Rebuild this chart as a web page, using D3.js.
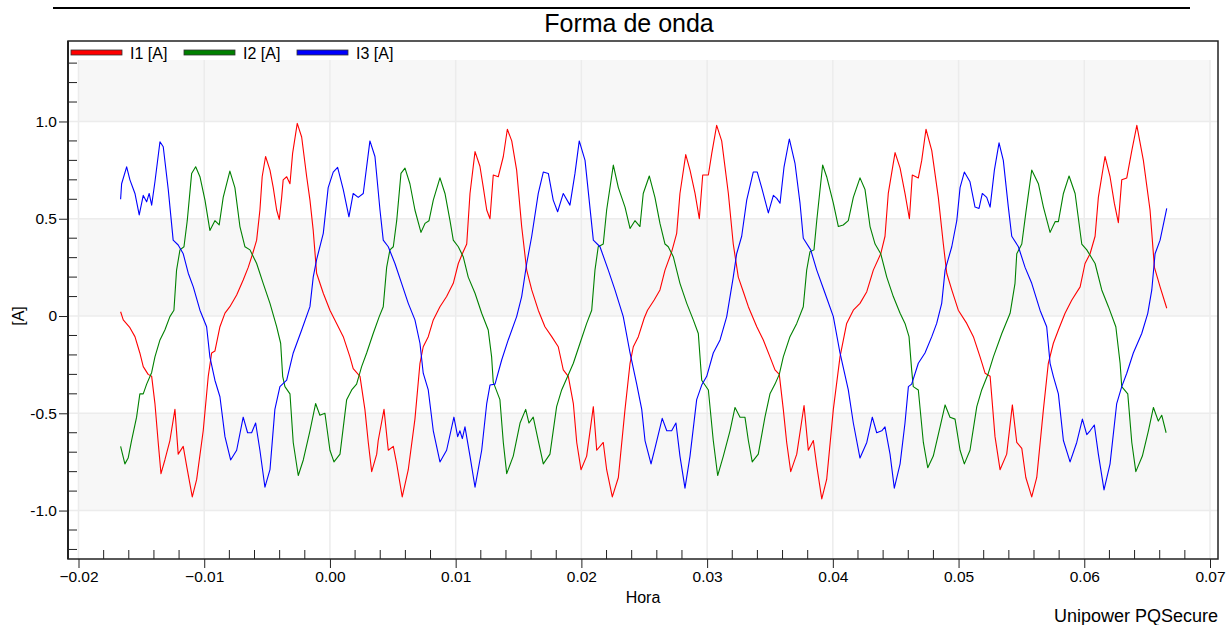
<!DOCTYPE html>
<html>
<head>
<meta charset="utf-8">
<script src="https://cdn.jsdelivr.net/npm/d3@7"></script>
<style>
  body { margin: 0; background: #fff; }
  svg { display: block; font-family: "Liberation Sans", Arial, sans-serif; }
</style>
</head>
<body>
<div id="chart"></div>
<script>
// samples: [time in ms, current in A]
const i1Data = [[-16.65,0.022],[-16.44,-0.02],[-15.91,-0.06],[-15.51,-0.106],[-15.12,-0.19],[-14.85,-0.26],[-14.46,-0.30],[-14.18,-0.31],[-13.92,-0.45],[-13.66,-0.65],[-13.44,-0.81],[-13.13,-0.74],[-12.73,-0.64],[-12.33,-0.48],[-12.07,-0.71],[-11.67,-0.67],[-11.40,-0.77],[-10.95,-0.93],[-10.60,-0.84],[-10.08,-0.59],[-9.68,-0.31],[-9.41,-0.19],[-9.15,-0.18],[-8.75,-0.055],[-8.35,0.015],[-7.96,0.048],[-7.42,0.108],[-6.90,0.185],[-6.50,0.25],[-6.15,0.32],[-5.83,0.39],[-5.57,0.545],[-5.39,0.716],[-5.12,0.82],[-4.77,0.75],[-4.51,0.66],[-4.24,0.545],[-4.03,0.497],[-3.84,0.61],[-3.72,0.70],[-3.44,0.716],[-3.18,0.68],[-2.97,0.836],[-2.60,0.99],[-2.25,0.92],[-1.85,0.716],[-1.59,0.596],[-1.33,0.44],[-1.06,0.22],[-0.53,0.117],[0,0.03],[0.53,-0.038],[1.06,-0.106],[1.59,-0.21],[1.85,-0.27],[2.39,-0.31],[2.78,-0.48],[3.05,-0.65],[3.32,-0.80],[3.72,-0.71],[3.84,-0.64],[4.30,-0.48],[4.64,-0.69],[5.04,-0.67],[5.31,-0.76],[5.75,-0.93],[6.23,-0.79],[6.76,-0.53],[7.16,-0.243],[7.42,-0.158],[7.82,-0.106],[8.22,-0.02],[8.75,0.048],[9.28,0.10],[9.81,0.168],[10.21,0.27],[10.53,0.32],[10.88,0.37],[11.14,0.63],[11.54,0.845],[11.93,0.77],[12.20,0.66],[12.47,0.545],[12.73,0.50],[12.99,0.725],[13.39,0.716],[13.79,0.82],[14.11,0.96],[14.46,0.90],[14.85,0.75],[15.25,0.46],[15.65,0.236],[16.05,0.134],[16.57,0.03],[17.10,-0.055],[17.64,-0.106],[18.16,-0.158],[18.56,-0.277],[18.96,-0.31],[19.36,-0.45],[19.63,-0.65],[19.97,-0.79],[20.42,-0.72],[20.95,-0.466],[21.22,-0.69],[21.74,-0.65],[22.01,-0.79],[22.46,-0.93],[22.94,-0.83],[23.47,-0.48],[23.87,-0.243],[24.13,-0.158],[24.53,-0.106],[25.00,-0.01],[25.26,0.03],[25.79,0.082],[26.25,0.134],[26.65,0.236],[27.18,0.33],[27.58,0.425],[27.84,0.63],[28.30,0.83],[28.64,0.75],[29.04,0.63],[29.38,0.50],[29.65,0.725],[30.10,0.725],[30.37,0.836],[30.76,0.98],[31.16,0.90],[31.69,0.63],[32.08,0.37],[32.48,0.20],[32.88,0.125],[33.28,0.048],[33.95,-0.055],[34.47,-0.123],[35.00,-0.21],[35.40,-0.277],[35.74,-0.30],[36.06,-0.48],[36.33,-0.65],[36.65,-0.80],[37.13,-0.71],[37.71,-0.46],[38.05,-0.69],[38.45,-0.64],[38.72,-0.77],[39.12,-0.94],[39.51,-0.84],[40.04,-0.48],[40.57,-0.21],[41.10,-0.038],[41.63,0.03],[42.16,0.065],[42.70,0.125],[43.22,0.236],[43.81,0.32],[44.15,0.41],[44.41,0.63],[44.95,0.84],[45.35,0.76],[45.74,0.63],[46.09,0.50],[46.32,0.725],[46.80,0.71],[47.07,0.80],[47.41,0.96],[47.87,0.85],[48.39,0.61],[48.79,0.37],[49.06,0.22],[49.46,0.134],[49.98,0.03],[50.65,-0.038],[51.18,-0.106],[51.71,-0.21],[52.11,-0.294],[52.51,-0.31],[52.90,-0.62],[53.30,-0.79],[53.83,-0.71],[54.28,-0.457],[54.63,-0.65],[55.03,-0.68],[55.35,-0.83],[55.82,-0.93],[56.22,-0.83],[56.75,-0.48],[57.14,-0.243],[57.54,-0.14],[57.94,-0.072],[58.47,0.014],[59.01,0.082],[59.67,0.15],[60.06,0.27],[60.46,0.32],[60.86,0.41],[61.12,0.61],[61.65,0.82],[62.05,0.716],[62.39,0.58],[62.71,0.48],[62.98,0.70],[63.38,0.71],[63.78,0.85],[64.18,0.98],[64.70,0.80],[65.23,0.545],[65.58,0.25],[66.03,0.15],[66.56,0.04]];

const i2Data = [[-16.65,-0.67],[-16.31,-0.76],[-16.05,-0.73],[-15.78,-0.64],[-15.38,-0.52],[-15.12,-0.40],[-14.85,-0.40],[-14.58,-0.35],[-14.18,-0.29],[-13.92,-0.21],[-13.52,-0.123],[-13.13,-0.072],[-12.73,-0.003],[-12.41,0.03],[-12.20,0.236],[-11.93,0.34],[-11.61,0.356],[-11.35,0.49],[-11.00,0.733],[-10.68,0.767],[-10.34,0.716],[-9.94,0.596],[-9.55,0.44],[-9.15,0.49],[-8.81,0.468],[-8.49,0.61],[-7.96,0.745],[-7.56,0.66],[-7.16,0.46],[-6.76,0.356],[-6.36,0.34],[-5.83,0.27],[-5.31,0.168],[-4.77,0.065],[-4.24,-0.055],[-3.92,-0.14],[-3.76,-0.31],[-3.58,-0.363],[-3.18,-0.40],[-2.92,-0.65],[-2.52,-0.82],[-2.12,-0.74],[-1.59,-0.59],[-1.14,-0.45],[-0.80,-0.51],[-0.40,-0.50],[0,-0.69],[0.32,-0.75],[0.80,-0.71],[1.33,-0.43],[1.73,-0.38],[2.12,-0.35],[2.52,-0.26],[2.92,-0.19],[3.44,-0.09],[3.92,-0.003],[4.24,0.048],[4.51,0.25],[4.77,0.34],[5.04,0.356],[5.31,0.49],[5.65,0.733],[5.97,0.76],[6.36,0.68],[6.76,0.545],[7.24,0.43],[7.56,0.476],[7.88,0.49],[8.22,0.596],[8.75,0.71],[9.15,0.63],[9.55,0.49],[9.81,0.39],[10.21,0.356],[10.60,0.305],[11.00,0.20],[11.54,0.117],[12.07,0.014],[12.59,-0.072],[12.86,-0.21],[12.99,-0.34],[13.52,-0.43],[13.79,-0.65],[14.06,-0.81],[14.58,-0.72],[15.12,-0.55],[15.57,-0.48],[15.83,-0.55],[16.17,-0.52],[16.57,-0.64],[16.97,-0.76],[17.50,-0.71],[18.03,-0.466],[18.43,-0.38],[18.91,-0.31],[19.36,-0.243],[19.89,-0.14],[20.42,-0.038],[20.82,0.03],[21.08,0.236],[21.34,0.356],[21.74,0.37],[22.01,0.545],[22.54,0.776],[22.94,0.66],[23.47,0.56],[23.87,0.45],[24.26,0.49],[24.66,0.46],[24.92,0.63],[25.40,0.72],[25.85,0.61],[26.25,0.476],[26.65,0.37],[26.91,0.356],[27.31,0.305],[27.84,0.168],[28.38,0.065],[28.90,-0.02],[29.30,-0.09],[29.57,-0.33],[30.10,-0.38],[30.49,-0.64],[30.84,-0.82],[31.29,-0.72],[31.82,-0.59],[32.22,-0.47],[32.62,-0.52],[33.01,-0.52],[33.28,-0.64],[33.59,-0.75],[34.07,-0.71],[34.60,-0.52],[35.00,-0.40],[35.40,-0.35],[35.74,-0.30],[36.06,-0.21],[36.59,-0.106],[37.13,-0.038],[37.65,0.048],[37.92,0.236],[38.18,0.33],[38.50,0.34],[38.72,0.49],[39.19,0.776],[39.51,0.716],[40.04,0.58],[40.44,0.46],[40.83,0.468],[41.23,0.49],[41.63,0.61],[42.16,0.71],[42.56,0.65],[42.96,0.46],[43.36,0.37],[43.81,0.32],[44.29,0.20],[44.81,0.10],[45.35,0.014],[45.74,-0.038],[46.06,-0.106],[46.27,-0.277],[46.40,-0.363],[46.80,-0.38],[47.20,-0.65],[47.55,-0.78],[47.99,-0.72],[48.53,-0.57],[48.93,-0.457],[49.32,-0.52],[49.72,-0.53],[50.12,-0.69],[50.46,-0.76],[50.91,-0.69],[51.45,-0.466],[51.84,-0.38],[52.37,-0.294],[52.77,-0.21],[53.44,-0.09],[54.10,0.014],[54.49,0.168],[54.63,0.32],[55.03,0.37],[55.35,0.53],[55.82,0.75],[56.35,0.68],[56.75,0.56],[57.28,0.43],[57.68,0.485],[57.94,0.485],[58.34,0.63],[58.79,0.72],[59.27,0.63],[59.80,0.37],[60.20,0.34],[60.86,0.27],[61.39,0.134],[61.92,0.048],[62.51,-0.055],[62.85,-0.243],[62.98,-0.363],[63.46,-0.40],[63.78,-0.65],[64.10,-0.80],[64.62,-0.72],[65.10,-0.59],[65.50,-0.47],[65.89,-0.54],[66.16,-0.51],[66.51,-0.60]];

const i3Data = [[-16.65,0.60],[-16.57,0.68],[-16.17,0.767],[-15.91,0.70],[-15.51,0.63],[-15.17,0.52],[-14.85,0.62],[-14.58,0.587],[-14.38,0.63],[-14.18,0.57],[-13.92,0.69],[-13.52,0.896],[-13.26,0.87],[-12.86,0.65],[-12.47,0.39],[-12.07,0.365],[-11.67,0.32],[-11.27,0.22],[-10.87,0.15],[-10.34,0.03],[-9.81,-0.055],[-9.55,-0.21],[-9.15,-0.33],[-8.75,-0.415],[-8.35,-0.62],[-7.90,-0.74],[-7.42,-0.69],[-6.90,-0.52],[-6.55,-0.60],[-6.23,-0.60],[-5.91,-0.55],[-5.57,-0.69],[-5.17,-0.88],[-4.77,-0.79],[-4.38,-0.48],[-3.98,-0.363],[-3.44,-0.33],[-2.92,-0.19],[-2.25,-0.072],[-1.59,0.048],[-1.33,0.20],[-1.06,0.29],[-0.53,0.425],[-0.14,0.66],[0.26,0.74],[0.61,0.764],[1.06,0.65],[1.51,0.51],[1.85,0.63],[2.25,0.61],[2.65,0.63],[3.18,0.90],[3.58,0.82],[3.98,0.545],[4.24,0.39],[4.64,0.356],[5.17,0.27],[5.70,0.168],[6.23,0.065],[6.76,-0.02],[7.16,-0.14],[7.42,-0.294],[7.82,-0.38],[8.22,-0.59],[8.75,-0.75],[9.28,-0.69],[9.86,-0.52],[10.16,-0.62],[10.34,-0.59],[10.53,-0.63],[10.74,-0.57],[11.14,-0.72],[11.54,-0.88],[12.07,-0.69],[12.47,-0.45],[12.73,-0.355],[13.13,-0.35],[13.66,-0.226],[14.18,-0.123],[14.85,-0.003],[15.25,0.10],[15.65,0.27],[16.05,0.41],[16.57,0.63],[16.97,0.74],[17.37,0.733],[17.76,0.596],[18.11,0.536],[18.56,0.63],[19.09,0.57],[19.49,0.733],[19.83,0.90],[20.29,0.80],[20.95,0.39],[21.48,0.356],[22.14,0.236],[22.67,0.134],[23.33,-0.003],[23.87,-0.19],[24.40,-0.35],[24.80,-0.48],[25.06,-0.64],[25.54,-0.76],[25.85,-0.68],[26.43,-0.526],[26.79,-0.59],[27.18,-0.59],[27.52,-0.55],[27.84,-0.72],[28.24,-0.885],[28.64,-0.72],[29.17,-0.43],[29.57,-0.355],[29.97,-0.31],[30.49,-0.19],[31.03,-0.123],[31.56,-0.003],[32.08,0.20],[32.35,0.32],[32.75,0.41],[33.15,0.596],[33.67,0.74],[33.99,0.74],[34.34,0.66],[34.87,0.53],[35.27,0.62],[35.54,0.605],[35.80,0.58],[36.12,0.767],[36.54,0.91],[36.99,0.785],[37.39,0.58],[37.65,0.40],[38.24,0.34],[38.72,0.236],[39.38,0.117],[40.04,-0.003],[40.57,-0.19],[41.23,-0.38],[41.63,-0.55],[42.16,-0.73],[42.70,-0.65],[43.14,-0.52],[43.49,-0.60],[43.89,-0.59],[44.15,-0.57],[44.55,-0.71],[44.89,-0.885],[45.35,-0.76],[45.74,-0.55],[46.01,-0.363],[46.27,-0.35],[46.80,-0.243],[47.33,-0.19],[47.87,-0.106],[48.26,-0.038],[48.66,0.065],[48.93,0.236],[49.46,0.356],[49.86,0.49],[50.12,0.66],[50.46,0.74],[50.91,0.69],[51.31,0.56],[51.63,0.553],[51.89,0.63],[52.24,0.61],[52.51,0.56],[52.85,0.75],[53.22,0.89],[53.56,0.80],[53.96,0.56],[54.23,0.41],[54.76,0.356],[55.29,0.25],[55.82,0.168],[56.48,0.03],[57.01,-0.055],[57.28,-0.243],[57.54,-0.31],[57.94,-0.40],[58.34,-0.64],[58.87,-0.75],[59.40,-0.65],[59.85,-0.53],[60.20,-0.61],[60.46,-0.59],[60.80,-0.56],[61.12,-0.71],[61.57,-0.894],[62.05,-0.76],[62.58,-0.45],[62.98,-0.363],[63.38,-0.294],[63.90,-0.19],[64.57,-0.09],[65.05,0.014],[65.37,0.134],[65.63,0.32],[66.03,0.39],[66.56,0.553]];

const seriesNames = ["I1 [A]", "I2 [A]", "I3 [A]"];
const seriesColors = ["#ff0000", "#008000", "#0000ff"];
const xTicks = [-0.02, -0.01, 0.00, 0.01, 0.02, 0.03, 0.04, 0.05, 0.06, 0.07];
const yTicks = [-1.0, -0.5, 0, 0.5, 1.0];
const yTickLabels = ["-1.0", "-0.5", "0", "0.5", "1.0"];

const W = 1227, H = 625;
const frame = {left: 68, right: 1218, top: 41, bottom: 559};
const plotTop = 60;
const tickFont = 15.5;

const svg = d3.select("#chart").append("svg")
    .attr("width", W)
    .attr("height", H);

// header rule and title
svg.append("line")
    .attr("x1", 53).attr("x2", 1190)
    .attr("y1", 8).attr("y2", 8)
    .attr("stroke", "#000").attr("stroke-width", 2);

svg.append("text")
    .attr("x", 629).attr("y", 32)
    .attr("text-anchor", "middle")
    .attr("font-size", 25)
    .attr("fill", "#000")
    .text("Forma de onda");

let x = d3.scaleLinear()
    .domain([-0.02, 0.07])
    .range([78.5, 1210]);

let y = d3.scaleLinear()
    .domain([-1.249, 1.316])
    .range([frame.bottom, plotTop]);

// background bands
let bands = [[1.0, 1.316], [0, 0.5], [-1.0, -0.5]];
svg.append("g").selectAll("rect")
    .data(bands)
    .enter().append("rect")
    .attr("x", x(-0.02))
    .attr("width", x(0.07) - x(-0.02))
    .attr("y", d => y(d[1]))
    .attr("height", d => y(d[0]) - y(d[1]))
    .attr("fill", "#f7f7f7");

// grid lines
svg.append("g").selectAll("line")
    .data(xTicks)
    .enter().append("line")
    .attr("x1", d => x(d)).attr("x2", d => x(d))
    .attr("y1", plotTop).attr("y2", frame.bottom)
    .attr("stroke", "#ececec").attr("stroke-width", 1.5);

svg.append("g").selectAll("line")
    .data(yTicks)
    .enter().append("line")
    .attr("x1", frame.left).attr("x2", frame.right)
    .attr("y1", d => y(d)).attr("y2", d => y(d))
    .attr("stroke", "#ececec").attr("stroke-width", 1.5);

// waveforms
let line = d3.line()
    .x(d => x(d[0] / 1000))
    .y(d => y(d[1]));

let allSeries = [i1Data, i2Data, i3Data];
svg.append("g").selectAll("path")
    .data(allSeries)
    .enter().append("path")
    .attr("d", line)
    .attr("fill", "none")
    .attr("stroke", (d, i) => seriesColors[i])
    .attr("stroke-width", 1.1)
    .attr("stroke-linejoin", "round");

// frame
svg.append("rect")
    .attr("x", frame.left).attr("y", frame.top)
    .attr("width", frame.right - frame.left)
    .attr("height", frame.bottom - frame.top)
    .attr("fill", "none")
    .attr("stroke", "#222").attr("stroke-width", 1.5);

// x axis: major ticks outside, minor inside
let xAxis = d3.axisBottom(x)
    .tickValues(xTicks)
    .tickFormat(d3.format(".2f"))
    .tickSize(9)
    .tickPadding(3);

let gx = svg.append("g")
    .attr("transform", `translate(0, ${frame.bottom})`)
    .call(xAxis);
gx.select(".domain").remove();
gx.selectAll("line").attr("stroke", "#222");
gx.selectAll("text")
    .attr("font-size", tickFont)
    .attr("fill", "#000")
    .attr("font-family", "Liberation Sans, Arial, sans-serif");

let xMinor = d3.range(-20, 71, 2).filter(d => d % 10 !== 0).map(d => d / 1000);
svg.append("g").selectAll("line")
    .data(xMinor)
    .enter().append("line")
    .attr("x1", d => x(d)).attr("x2", d => x(d))
    .attr("y1", frame.bottom).attr("y2", frame.bottom - 9)
    .attr("stroke", "#222");

// y axis
let yAxis = d3.axisLeft(y)
    .tickValues(yTicks)
    .tickFormat((d, i) => yTickLabels[i])
    .tickSize(9)
    .tickPadding(2);

let gy = svg.append("g")
    .attr("transform", `translate(${frame.left}, 0)`)
    .call(yAxis);
gy.select(".domain").remove();
gy.selectAll("line").attr("stroke", "#222");
gy.selectAll("text")
    .attr("font-size", tickFont)
    .attr("fill", "#000")
    .attr("font-family", "Liberation Sans, Arial, sans-serif");

let yMinor = d3.range(-12, 14, 1).filter(d => d % 5 !== 0).map(d => d / 10);
svg.append("g").selectAll("line")
    .data(yMinor)
    .enter().append("line")
    .attr("x1", frame.left).attr("x2", frame.left + 9)
    .attr("y1", d => y(d)).attr("y2", d => y(d))
    .attr("stroke", "#222");

// thicker left axis line
svg.append("line")
    .attr("x1", frame.left).attr("x2", frame.left)
    .attr("y1", frame.top).attr("y2", frame.bottom)
    .attr("stroke", "#222").attr("stroke-width", 2);

// axis titles
svg.append("text")
    .attr("transform", `translate(24, ${y(0)}) rotate(-90)`)
    .attr("text-anchor", "middle")
    .attr("font-size", 16)
    .text("[A]");

svg.append("text")
    .attr("x", 643).attr("y", 603)
    .attr("text-anchor", "middle")
    .attr("font-size", 16)
    .text("Hora");

svg.append("text")
    .attr("x", 1218).attr("y", 622)
    .attr("text-anchor", "end")
    .attr("font-size", 18)
    .text("Unipower PQSecure");

// legend
let legendX = [71, 184, 297];
let legend = svg.append("g").selectAll("g")
    .data(seriesNames)
    .enter().append("g")
    .attr("transform", (d, i) => `translate(${legendX[i]}, 50)`);

legend.append("rect")
    .attr("width", 51).attr("height", 5)
    .attr("fill", (d, i) => seriesColors[i])
    .attr("stroke", "#333").attr("stroke-width", 0.8);

legend.append("text")
    .attr("x", 59).attr("y", 9)
    .attr("font-size", 16)
    .text(d => d);
</script>
</body>
</html>
